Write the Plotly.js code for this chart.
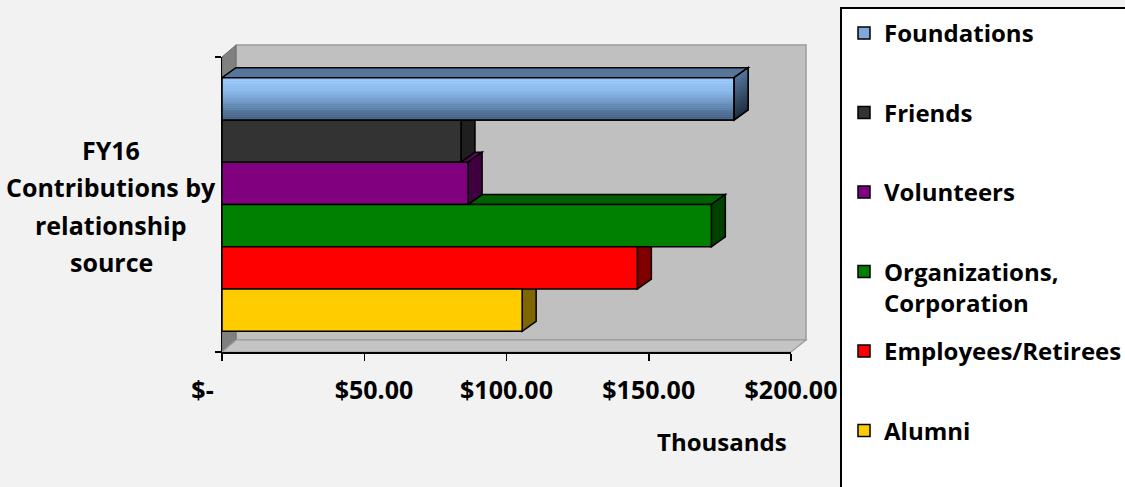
<!DOCTYPE html>
<html>
<head>
<meta charset="utf-8">
<script src="https://cdn.plot.ly/plotly-3.0.1.min.js"></script>
<style>html,body{margin:0;padding:0;background:#f2f2f2;}#chart{width:1125px;height:487px;}</style>
</head>
<body>
<div id="chart"></div>
<script>
// ---- data ----
const seriesNames = ['Foundations', 'Friends', 'Volunteers', 'Organizations,<br>Corporation', 'Employees/Retirees', 'Alumni'];
const seriesValues = [180, 84, 86.5, 172, 146, 105.5];   // thousands of $
const frontColors = ['#7fa9d8', '#333333', '#800080', '#008000', '#ff0000', '#ffcc00'];
const topColors   = ['#56769b', '#262626', '#5e005e', '#005f00', '#bf0000', '#bf9900'];
const sideColors  = ['#3a506a', '#1f1f1f', '#400040', '#004000', '#800000', '#806600'];
const xTickVals = [0, 50, 100, 150, 200];
const xTickLabels = ['$-', '$50.00', '$100.00', '$150.00', '$200.00'];
const categoryLines = ['FY16', 'Contributions by', 'relationship', 'source'];
const unitsTitle = 'Thousands';

// ---- geometry / style ----
const W = 1125, H = 487;
const PL = 222, PR = 791, PT = 57, PB = 352;
const PW = PR - PL, PH = PB - PT;
const X_MAX = 200;
const FAMILY = 'Open Sans, DejaVu Sans, sans-serif';
const FONT = {family: FAMILY, size: 24, weight: 'bold', color: '#000'};
const FONT_BIG = {family: FAMILY, size: 25, weight: 'bold', color: '#000'};
const px2x = p => p * X_MAX / PW;   // px -> data (x)
const px2y = p => p / PH;           // px -> data (y, range 1)
const pxX = p => (p - PL) / PW;     // absolute px -> paper x
const pxY = p => (PB - p) / PH;     // absolute px -> paper y

const N = seriesNames.length;
const groupW = 0.86, barW = groupW / N;
const bdx = px2x(14), bdy = px2y(10);

const traces = [];
const shapes = [];

// walls (paper refs)
const wdx = 14 / PW, wdy = 12 / PH, backR = 1 + 15 / PW;
shapes.push({type: 'path', xref: 'paper', yref: 'paper', layer: 'below',
  path: `M${wdx},${wdy} L${backR},${wdy} L${backR},${1 + wdy} L${wdx},${1 + wdy} Z`,
  fillcolor: '#c0c0c0', line: {color: '#9a9a9a', width: 1.5}});
shapes.push({type: 'path', xref: 'paper', yref: 'paper', layer: 'below',
  path: `M0,0 L0,1 L${wdx},${1 + wdy} L${wdx},${wdy} Z`,
  fillcolor: '#808080', line: {color: '#6e6e6e', width: 1}});
shapes.push({type: 'path', xref: 'paper', yref: 'paper', layer: 'below',
  path: `M0,0 L1,0 L${backR},${wdy} L${wdx},${wdy} Z`,
  fillcolor: '#c4c4c4', line: {color: '#9a9a9a', width: 1.2}});
// legend frame
shapes.push({type: 'rect', xref: 'paper', yref: 'paper', layer: 'below',
  x0: pxX(841), x1: pxX(1140), y0: pxY(500), y1: pxY(8),
  fillcolor: '#ffffff', line: {color: '#000', width: 2}});

const geom = seriesNames.map((n, i) => {
  const k = N - 1 - i;
  const y0 = -groupW / 2 + k * barW;
  return {y0, y1: y0 + barW, v: seriesValues[i]};
});

// every legend entry spans two text lines so the entries are evenly spaced
const NB = '\u00a0';
const legendText = n => n.indexOf('<br>') >= 0 ? n : n + '<br>' + NB;

seriesNames.forEach((name, i) => {
  traces.push({
    type: 'bar', orientation: 'h', name: legendText(name),
    x: [seriesValues[i]], y: [0], base: 0,
    offset: geom[i].y0, width: barW,
    marker: {color: frontColors[i], line: {color: '#000', width: 1.5}},
    legendgroup: 'g' + i, hoverinfo: 'skip'
  });
});

// 3D faces, drawn from bottom bar to top bar
for (let i = N - 1; i >= 0; i--) {
  const {y0, y1, v} = geom[i];
  shapes.push({type: 'path', xref: 'x', yref: 'y', layer: 'below',
    path: `M0,${y1} L${v},${y1} L${v + bdx},${y1 + bdy} L${bdx},${y1 + bdy} Z`,
    fillcolor: topColors[i], line: {color: '#000', width: 1.5}});
  shapes.push({type: 'path', xref: 'x', yref: 'y', layer: 'below',
    path: `M${v},${y0} L${v},${y1} L${v + bdx},${y1 + bdy} L${v + bdx},${y0 + bdy} Z`,
    fillcolor: sideColors[i], line: {color: '#000', width: 1.5}});
}

// gradient on the first series' front face
function hex2rgb(h) { return [1, 3, 5].map(j => parseInt(h.substr(j, 2), 16)); }
function grad(stops, t) {
  for (let j = 0; j < stops.length - 1; j++) {
    const [t0, c0] = stops[j], [t1, c1] = stops[j + 1];
    if (t <= t1) {
      const f = (t - t0) / (t1 - t0), a = hex2rgb(c0), b = hex2rgb(c1);
      return 'rgb(' + a.map((x, m) => Math.round(x + (b[m] - x) * f)).join(',') + ')';
    }
  }
  return stops[stops.length - 1][1];
}
const gStops = [[0, '#9fcfff'], [0.35, '#8bb9ea'], [0.7, '#5f84ad'], [1, '#3d5876']];
const sStops = [[0, '#5b7ca3'], [1, '#1c2939']];
{
  const {y0, y1, v} = geom[0];
  const S = 24;
  for (let s = 0; s < S; s++) {
    const ya = y1 - (y1 - y0) * s / S, yb = y1 - (y1 - y0) * (s + 1) / S;
    const c = grad(gStops, (s + 0.5) / S);
    shapes.push({type: 'rect', xref: 'x', yref: 'y', layer: 'above',
      x0: 0, x1: v, y0: yb, y1: ya, fillcolor: c, line: {width: 0}});
    const cs = grad(sStops, (s + 0.5) / S);
    shapes.push({type: 'path', xref: 'x', yref: 'y', layer: 'above',
      path: `M${v},${yb} L${v},${ya} L${v + bdx},${ya + bdy} L${v + bdx},${yb + bdy} Z`,
      fillcolor: cs, line: {width: 0}});
  }
  shapes.push({type: 'rect', xref: 'x', yref: 'y', layer: 'above',
    x0: 0, x1: v, y0: y0, y1: y1, fillcolor: 'rgba(0,0,0,0)', line: {color: '#000', width: 1.5}});
  shapes.push({type: 'path', xref: 'x', yref: 'y', layer: 'above',
    path: `M${v},${y0} L${v},${y1} L${v + bdx},${y1 + bdy} L${v + bdx},${y0 + bdy} Z`,
    fillcolor: 'rgba(0,0,0,0)', line: {color: '#000', width: 1.5}});
}

// accounting-style label padding
const tickText = xTickLabels.map((t, i) => i === 0 ? t + NB.repeat(6) : (i === 1 ? NB.repeat(3) + t : t));

const annotations = categoryLines.map((t, j) => ({
  text: t, xref: 'paper', yref: 'paper', x: pxX(111), y: pxY(150 + j * 37.3),
  xanchor: 'center', yanchor: 'middle', showarrow: false, font: FONT_BIG
}));
annotations.push({text: unitsTitle, xref: 'paper', yref: 'paper', x: pxX(722), y: pxY(441),
  xanchor: 'center', yanchor: 'middle', showarrow: false, font: FONT});

const layout = {
  width: W, height: H,
  margin: {l: PL, r: W - PR, t: PT, b: H - PB, pad: 0, autoexpand: false},
  paper_bgcolor: '#f2f2f2', plot_bgcolor: 'rgba(0,0,0,0)',
  barmode: 'overlay',
  showlegend: true,
  font: FONT,
  xaxis: {range: [0, X_MAX], tickvals: xTickVals, ticktext: tickText,
    showline: true, linecolor: '#000', linewidth: 1.5, ticks: 'outside', ticklen: 7,
    tickwidth: 1.5, tickcolor: '#000', showgrid: false, zeroline: false,
    tickfont: FONT_BIG, ticklabelstandoff: 8, fixedrange: true},
  yaxis: {type: 'linear', range: [-0.5, 0.5], tickvals: [-0.5, 0.5], showticklabels: false,
    showline: true, linecolor: '#000', linewidth: 1.5, ticks: 'outside', ticklen: 6,
    tickwidth: 1.5, tickcolor: '#000', showgrid: false, zeroline: false, fixedrange: true},
  legend: {x: pxX(844), xanchor: 'left', y: pxY(11), yanchor: 'top', maxheight: 700,
    bgcolor: 'rgba(0,0,0,0)', borderwidth: 0, font: FONT, valign: 'top',
    tracegroupgap: 14.1, traceorder: 'grouped', itemclick: false, itemdoubleclick: false},
  shapes: shapes,
  annotations: annotations
};

Plotly.newPlot('chart', traces, layout, {displayModeBar: false, staticPlot: true});
</script>
</body>
</html>
